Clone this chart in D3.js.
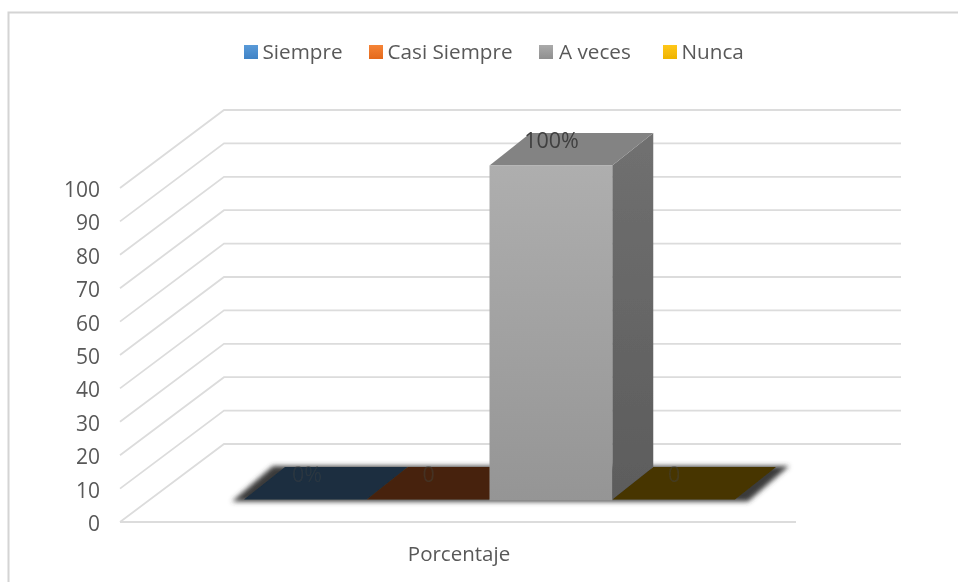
<!DOCTYPE html>
<html>
<head>
<meta charset="utf-8">
<script src="https://cdnjs.cloudflare.com/ajax/libs/d3/7.8.5/d3.min.js"></script>
<style>
html, body { margin: 0; padding: 0; background: #fff; }
svg { display: block; }
text { font-family: "Open Sans", "Noto Sans", sans-serif; fill: #595959; }
</style>
</head>
<body>
<div id="chart"></div>
<script>
const categories = ["Siempre", "Casi Siempre", "A veces", "Nunca"];
const values = [0, 0, 100, 0];
const valueLabels = ["0%", "0", "100%", "0"];
const yTicks = [0, 10, 20, 30, 40, 50, 60, 70, 80, 90, 100];
const groupLabel = "Porcentaje";

const legendColors = [["#5a9ad8", "#3f83c6"], ["#f58437", "#e4691c"], ["#aaaaaa", "#8f8f8f"], ["#ffc71a", "#eeb400"]];
const floorColors = ["#1a2e40", "#47240d", "#969696", "#473600"];

const width = 958, height = 582;

const svg = d3.select("#chart").append("svg")
    .attr("width", width)
    .attr("height", height);

const defs = svg.append("defs");

defs.append("filter").attr("id", "soft")
    .attr("filterUnits", "userSpaceOnUse")
    .attr("x", 0).attr("y", 0).attr("width", width).attr("height", height)
    .append("feGaussianBlur").attr("stdDeviation", 0.55);

defs.append("filter").attr("id", "shadow")
    .attr("x", "-10%").attr("y", "-40%").attr("width", "120%").attr("height", "180%")
    .append("feGaussianBlur").attr("stdDeviation", 2.6);

function gradient(id, top, bottom) {
    const g = defs.append("linearGradient").attr("id", id)
        .attr("x1", 0).attr("y1", 0).attr("x2", 0).attr("y2", 1);
    g.append("stop").attr("offset", "0%").attr("stop-color", top);
    g.append("stop").attr("offset", "100%").attr("stop-color", bottom);
}
gradient("barFront", "#aeaeae", "#959595");
gradient("barSide", "#707070", "#5c5c5c");
legendColors.forEach((c, i) => gradient("legend" + i, c[0], c[1]));

const root = svg.append("g").attr("filter", "url(#soft)");

// chart frame, only the left and top edges are in the picture
root.append("path")
    .attr("d", "M8.5,582V12.5H958")
    .attr("fill", "none")
    .attr("stroke", "#d4d4d4")
    .attr("stroke-width", 2);

const y = d3.scaleLinear().domain([0, 100]).range([522, 188]);
const x = d3.scaleBand().domain(categories).range([244, 735]);

// 3d offsets
const wallDx = 104, wallDy = -78;     // floor depth
const barInDy = -22.5;                // bar front sits behind the floor edge
const barDx = 41, barDy = -32.5;      // bar depth

const lineColor = "#dcdcdc";
const floorLen = 676;

// gridlines on side wall and back wall
root.append("g").selectAll("path")
    .data(yTicks)
    .enter()
    .append("path")
    .attr("d", d => {
        const x0 = 120, y0 = y(d);
        const x1 = x0 + wallDx, y1 = y0 + wallDy;
        return d === 0
            ? `M${x0},${y0}H${x0 + floorLen}`
            : `M${x0},${y0}L${x1},${y1}H${x1 + floorLen + 1}`;
    })
    .attr("fill", "none")
    .attr("stroke", lineColor)
    .attr("stroke-width", 1.8);

// floor edge on the left and the back floor line
root.append("path")
    .attr("d", `M120,${y(0)}L${120 + wallDx},${y(0) + wallDy}H${120 + wallDx + floorLen + 1}`)
    .attr("fill", "none")
    .attr("stroke", lineColor)
    .attr("stroke-width", 1.8);

// y axis labels
root.append("g").selectAll("text")
    .data(yTicks)
    .enter()
    .append("text")
    .attr("x", 100)
    .attr("y", d => y(d) + 9)
    .attr("text-anchor", "end")
    .attr("font-size", 21)
    .text(d => d);

// bars
const base = y(0) + barInDy;
const bars = categories.map((c, i) => ({ name: c, value: values[i], i }));

function topPoints(d) {
    const x0 = x(d.name), x1 = x0 + x.bandwidth();
    const yy = y(d.value) + barInDy;
    return [[x0, yy], [x1, yy], [x1 + barDx, yy + barDy], [x0 + barDx, yy + barDy]];
}

// shadow under the flat bars
const flat = bars.filter(d => d.value === 0);
const flatLeft = x(categories[0]), flatRight = x(categories[3]) + x.bandwidth();
root.append("path")
    .attr("d", `M${flatLeft - 12},${base + 2}L${flatLeft + barDx - 12},${base + barDy - 1}H${flatRight + barDx + 13}L${flatRight + 13},${base + 2}Z`)
    .attr("fill", "#3a3a3a")
    .attr("filter", "url(#shadow)");

const line = d3.line();

root.append("g").selectAll("path")
    .data(flat)
    .enter()
    .append("path")
    .attr("d", d => line(topPoints(d)) + "Z")
    .attr("fill", d => floorColors[d.i]);

const tall = bars.filter(d => d.value > 0);
const tallGroup = root.append("g").selectAll("g")
    .data(tall)
    .enter()
    .append("g");

tallGroup.append("path")
    .attr("d", d => {
        const x1 = x(d.name) + x.bandwidth();
        const yy = y(d.value) + barInDy;
        return line([[x1, yy], [x1 + barDx, yy + barDy], [x1 + barDx, base + barDy], [x1, base]]) + "Z";
    })
    .attr("fill", "url(#barSide)");

tallGroup.append("path")
    .attr("d", d => line(topPoints(d)) + "Z")
    .attr("fill", "#838383");

tallGroup.append("rect")
    .attr("x", d => x(d.name))
    .attr("y", d => y(d.value) + barInDy)
    .attr("width", x.bandwidth())
    .attr("height", d => y(0) - y(d.value) + 1)
    .attr("fill", "url(#barFront)");

// value labels
const labelDx = [63, 62, 62, 62];
root.append("g").selectAll("text")
    .data(bars)
    .enter()
    .append("text")
    .attr("x", d => x(d.name) + labelDx[d.i])
    .attr("y", d => y(d.value) + barInDy - 18)
    .attr("text-anchor", "middle")
    .attr("font-size", 21.5)
    .attr("fill-opacity", d => d.value > 0 ? 1 : 0.45)
    .style("fill", "#404040")
    .text(d => valueLabels[d.i]);

// category label
root.append("text")
    .attr("x", 459)
    .attr("y", 561)
    .attr("text-anchor", "middle")
    .attr("font-size", 20.5)
    .text(groupLabel);

// legend
const legendX = [244, 369, 539, 663];
const legend = root.append("g").selectAll("g")
    .data(categories)
    .enter()
    .append("g")
    .attr("transform", (d, i) => `translate(${legendX[i]},45)`);

legend.append("rect")
    .attr("width", 14)
    .attr("height", 14)
    .attr("fill", (d, i) => `url(#legend${i})`);

legend.append("text")
    .attr("x", (d, i) => i === 2 ? 20 : 18.5)
    .attr("y", 14)
    .attr("font-size", 20.7)
    .text(d => d);
</script>
</body>
</html>
